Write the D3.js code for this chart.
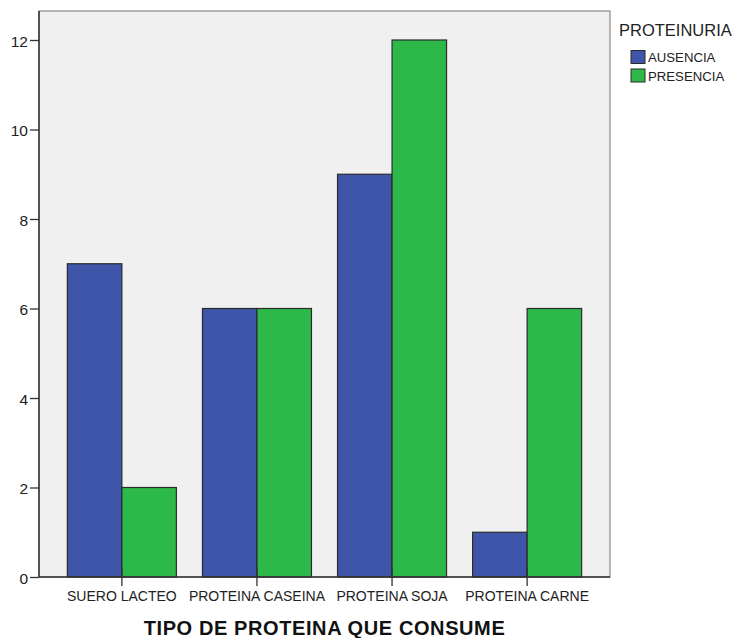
<!DOCTYPE html>
<html>
<head>
<meta charset="utf-8">
<script src="https://cdn.jsdelivr.net/npm/d3@7"></script>
<style>
  html, body { margin: 0; padding: 0; background: #fff; }
  svg { display: block; font-family: "Liberation Sans", Arial, sans-serif; }
</style>
</head>
<body>
<svg id="chart" width="739" height="638"></svg>
<script>
const categories = ["SUERO LACTEO", "PROTEINA CASEINA", "PROTEINA SOJA", "PROTEINA CARNE"];
const seriesNames = ["AUSENCIA", "PRESENCIA"];
const ausencia = [7, 6, 9, 1];
const presencia = [2, 6, 12, 6];
const yTicks = [0, 2, 4, 6, 8, 10, 12];
const legendTitle = "PROTEINURIA";
const xTitle = "TIPO DE PROTEINA QUE CONSUME";
const colors = ["#3e55aa", "#2db84a"];

const values = [ausencia, presencia];
const svg = d3.select("#chart");

const plot = { left: 39, right: 610, top: 11, bottom: 577 };

const x = d3.scaleBand().domain(categories)
  .range([plot.left, plot.right]).paddingInner(0.193).paddingOuter(0.21);
const xSub = d3.scaleBand().domain(seriesNames).range([0, x.bandwidth()]);
const y = d3.scaleLinear().domain([0, 12]).range([577, 40]);

// plot background
svg.append("rect")
  .attr("x", plot.left).attr("y", plot.top)
  .attr("width", plot.right - plot.left).attr("height", plot.bottom - plot.top)
  .attr("fill", "#f0f0f0").attr("stroke", "#888").attr("stroke-width", 1.2);

// bars
categories.forEach((c, i) => {
  seriesNames.forEach((s, j) => {
    const v = values[j][i];
    svg.append("rect")
      .attr("x", x(c) + xSub(s))
      .attr("y", y(v))
      .attr("width", xSub.bandwidth())
      .attr("height", y(0) - y(v))
      .attr("fill", colors[j])
      .attr("stroke", "#2a2a2a")
      .attr("stroke-width", 1.2);
  });
});

// y axis
const yAxis = d3.axisLeft(y).tickValues(yTicks).tickSize(9).tickPadding(2);
const gy = svg.append("g").attr("transform", `translate(${plot.left},0)`).call(yAxis);
gy.select(".domain").attr("stroke", "#333").attr("stroke-width", 1.5).attr("d", `M0,${plot.top}V${plot.bottom}`);
gy.selectAll(".tick line").attr("stroke", "#333").attr("stroke-width", 1.3);
gy.selectAll(".tick text").attr("font-size", 15.5).attr("fill", "#222")
  .attr("dy", "0.4em").attr("font-family", "Liberation Sans, Arial, sans-serif");

// x axis
const xAxis = d3.axisBottom(x).tickSize(9).tickPadding(5);
const gx = svg.append("g").attr("transform", `translate(0,${plot.bottom})`).call(xAxis);
gx.select(".domain").attr("stroke", "#333").attr("stroke-width", 1.5).attr("d", `M${plot.left},0H${plot.right}`);
gx.selectAll(".tick line").attr("stroke", "#333").attr("stroke-width", 1.3).attr("y1", -8);
gx.selectAll(".tick text").attr("font-size", 14).attr("fill", "#222").attr("font-family", "Liberation Sans, Arial, sans-serif");

// x title
svg.append("text")
  .attr("x", 324.5).attr("y", 635)
  .attr("text-anchor", "middle")
  .attr("font-size", 20).attr("font-weight", "bold").attr("fill", "#111")
  .attr("letter-spacing", 0.6)
  .text(xTitle);

// legend
svg.append("text").attr("x", 619).attr("y", 36)
  .attr("font-size", 16.5).attr("fill", "#222").text(legendTitle);
const lg = svg.append("g");
seriesNames.forEach((s, j) => {
  lg.append("rect").attr("x", 631).attr("y", 50.5 + j * 18.5)
    .attr("width", 14).attr("height", 13)
    .attr("fill", colors[j]).attr("stroke", "#2a2a2a").attr("stroke-width", 1);
  lg.append("text").attr("x", 648).attr("y", 62 + j * 18.5)
    .attr("font-size", 13.2).attr("fill", "#222").text(s);
});
</script>
</body>
</html>
